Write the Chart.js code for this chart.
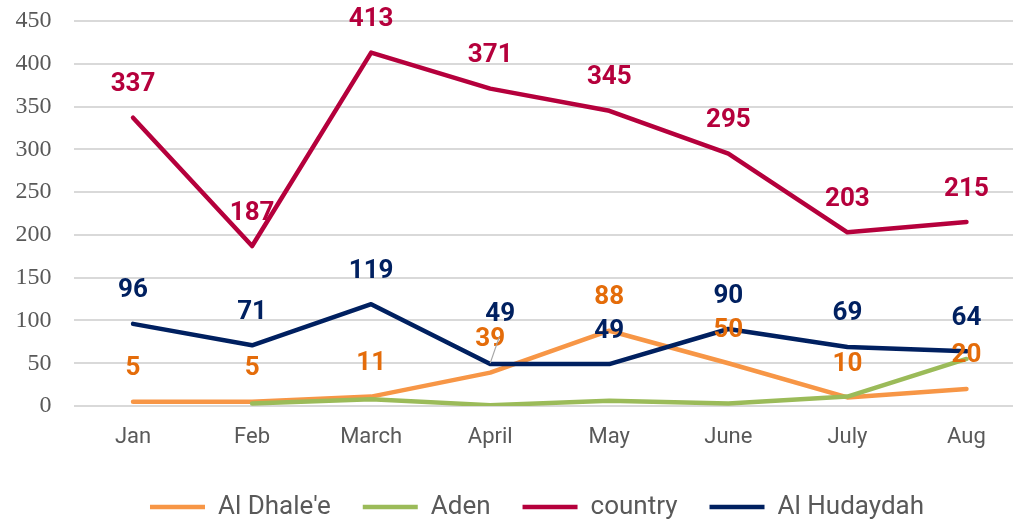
<!DOCTYPE html>
<html>
<head>
<meta charset="utf-8">
<script src="https://cdn.jsdelivr.net/npm/chart.js@4"></script>
<style>
    html, body { margin: 0; padding: 0; background: #fff; overflow: hidden; }
    #wrap { width: 1013px; height: 519px; overflow: hidden; }
    #wrap div { width: 1026px; height: 530px; }
</style>
</head>
<body>
<div id="wrap"><div><canvas id="lineChart"></canvas></div></div>
<script>
const months = ["Jan", "Feb", "March", "April", "May", "June", "July", "Aug"];
const alDhalee = [5, 5, 11, 39, 88, 50, 10, 20];
const aden = [null, 3, 8, 1, 6, 3, 11, 55];
const country = [337, 187, 413, 371, 345, 295, 203, 215];
const alHudaydah = [96, 71, 119, 49, 49, 90, 69, 64];
const yTicks = [0, 50, 100, 150, 200, 250, 300, 350, 400, 450];

// label colours per series (null = no labels)
const labelColors = ["#E46C0A", null, "#B5003C", "#002060"];

// Data labels drawn above each point, one moved by hand like in the original
const pointLabels = {
    id: "pointLabels",
    afterDatasetsDraw(chart) {
        const ctx = chart.ctx;
        ctx.save();
        ctx.font = "bold 26px Roboto";
        ctx.textAlign = "center";
        ctx.textBaseline = "middle";
        chart.data.datasets.forEach((ds, di) => {
            const color = labelColors[di];
            if (!color) return;
            chart.getDatasetMeta(di).data.forEach((pt, i) => {
                if (ds.data[i] == null) return;
                let x = pt.x;
                let y = pt.y - 33;
                if (di === 3 && i === 3) {
                    // moved label with leader line
                    x += 10;
                    y -= 17;
                    ctx.strokeStyle = "#a6a6a6";
                    ctx.lineWidth = 1.2;
                    ctx.beginPath();
                    ctx.moveTo(pt.x, pt.y - 1);
                    ctx.lineTo(pt.x + 9, pt.y - 27);
                    ctx.stroke();
                }
                ctx.fillStyle = color;
                ctx.fillText(String(ds.data[i]), x, y);
            });
        });
        ctx.restore();
    }
};

// the legend sits a bit right of the canvas centre
const legendShift = {
    id: "legendShift",
    afterLayout(chart) {
        if (!chart.legend) return;
        chart.legend.left += 24;
        chart.legend.right += 24;
    }
};

function series(label, data, color, order) {
    return {
        label: label,
        data: data,
        borderColor: color,
        backgroundColor: color,
        borderWidth: 4.5,
        borderCapStyle: "round",
        borderJoinStyle: "round",
        pointRadius: 0,
        pointHoverRadius: 0,
        tension: 0,
        order: order
    };
}

const ctx = document.getElementById("lineChart").getContext("2d");
new Chart(ctx, {
    type: "line",
    data: {
        labels: months,
        datasets: [
            series("Al Dhale'e", alDhalee, "#F79646", 4),
            series("Aden", aden, "#9BBB59", 3),
            series("country", country, "#B5003C", 2),
            series("Al Hudaydah", alHudaydah, "#002060", 1)
        ]
    },
    options: {
        responsive: true,
        maintainAspectRatio: false,
        animation: false,
        layout: { padding: { top: 21, left: 0, right: 0, bottom: 0 } },
        plugins: {
            tooltip: { enabled: false },
            legend: {
                position: "bottom",
                align: "center",
                labels: {
                    usePointStyle: true,
                    pointStyle: "line",
                    pointStyleWidth: 55,
                    padding: 32,
                    color: "#595959",
                    font: { family: "Roboto", size: 26 },
                    sort: (a, b) => a.datasetIndex - b.datasetIndex
                }
            }
        },
        scales: {
            x: {
                offset: true,
                grid: { display: false },
                border: { display: false },
                ticks: {
                    color: "#595959",
                    font: { family: "Roboto", size: 22 },
                    padding: 10,
                    maxRotation: 0
                },
                afterFit: (scale) => { scale.height = 56; }
            },
            y: {
                min: 0,
                max: 450,
                afterBuildTicks: (scale) => { scale.ticks = yTicks.map(v => ({ value: v })); },
                grid: { color: "#d9d9d9", lineWidth: 2, drawTicks: false },
                border: { display: false },
                ticks: {
                    color: "#595959",
                    font: { family: "Liberation Serif", size: 24 },
                    padding: 22
                },
                afterFit: (scale) => {
                    scale.width = 73.5;
                    scale.paddingTop = 0;
                    scale.paddingBottom = 0;
                }
            }
        }
    },
    plugins: [pointLabels, legendShift]
});
</script>
</body>
</html>
